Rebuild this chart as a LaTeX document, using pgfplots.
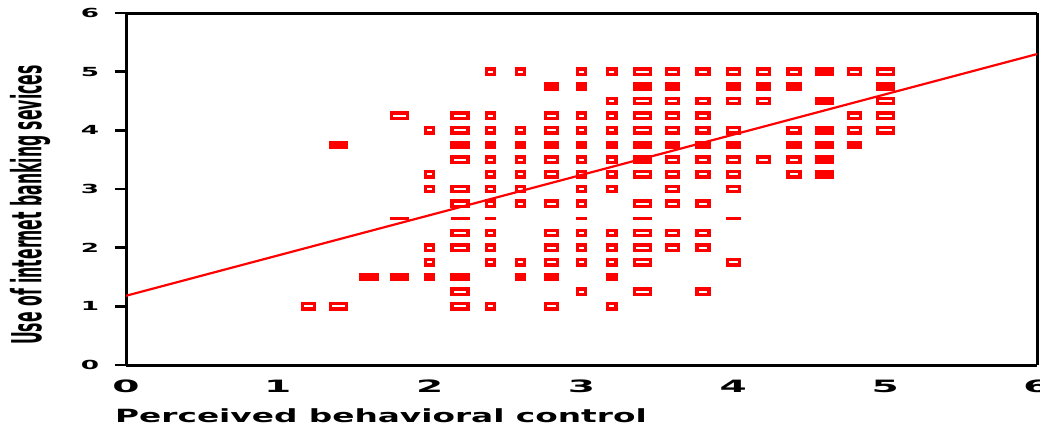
\documentclass[border=0pt]{standalone}
\usepackage{pgfplots}
\usepackage{pgfplotstable}
\usepackage{graphicx}
\usepackage{fontspec}
\setmainfont{DejaVu Sans}
\pgfplotsset{compat=1.18}

\pgfplotstableread{
x y c
1.2 1.0 mh
1.4 1.0 wh
1.4 3.75 wf
1.6 1.5 wf
1.8 1.5 wf
1.8 2.5 wt
1.8 4.25 wh
2.0 1.5 nf
2.0 1.75 nh
2.0 2.0 nh
2.0 3.0 nh
2.0 3.25 nh
2.0 4.0 nh
2.2 1.0 wh
2.2 1.25 wh
2.2 1.5 wf
2.2 2.0 wh
2.2 2.25 wh
2.2 2.5 wt
2.2 2.75 wh
2.2 3.0 wh
2.2 3.5 wh
2.2 3.75 wf
2.2 4.0 wh
2.2 4.25 wh
2.4 1.0 nh
2.4 1.75 nh
2.4 2.0 nh
2.4 2.25 nh
2.4 2.5 nt
2.4 2.75 nh
2.4 3.0 nh
2.4 3.25 nh
2.4 3.5 nh
2.4 3.75 nf
2.4 4.0 nh
2.4 4.25 nh
2.4 5.0 nh
2.6 1.5 nf
2.6 1.75 nh
2.6 2.75 nh
2.6 3.0 nh
2.6 3.25 nh
2.6 3.5 nh
2.6 3.75 nf
2.6 4.0 nh
2.6 5.0 nh
2.8 1.0 mh
2.8 1.5 mf
2.8 1.75 mh
2.8 2.0 mh
2.8 2.25 mh
2.8 2.75 mh
2.8 3.25 mh
2.8 3.5 mh
2.8 3.75 mf
2.8 4.0 mh
2.8 4.25 mh
2.8 4.75 mf
3.0 1.25 nh
3.0 1.75 nh
3.0 2.0 nh
3.0 2.25 nh
3.0 2.5 nt
3.0 2.75 nh
3.0 3.0 nh
3.0 3.25 nh
3.0 3.5 nh
3.0 3.75 nf
3.0 4.0 nh
3.0 4.25 nh
3.0 4.75 nf
3.0 5.0 nh
3.2 1.0 nh
3.2 1.5 nf
3.2 1.75 nh
3.2 2.0 nh
3.2 2.25 nh
3.2 3.0 nh
3.2 3.25 nh
3.2 3.5 nh
3.2 3.75 nf
3.2 4.0 nh
3.2 4.25 nh
3.2 4.5 nh
3.2 5.0 nh
3.4 1.25 wh
3.4 1.75 wh
3.4 2.0 wh
3.4 2.25 wh
3.4 2.5 wt
3.4 2.75 wh
3.4 3.25 wh
3.4 3.5 wf
3.4 3.75 wf
3.4 4.0 wh
3.4 4.25 wh
3.4 4.5 wh
3.4 4.75 wf
3.4 5.0 wh
3.6 2.0 mh
3.6 2.25 mh
3.6 2.75 mh
3.6 3.0 mh
3.6 3.25 mh
3.6 3.5 mh
3.6 3.75 mf
3.6 4.0 mh
3.6 4.25 mh
3.6 4.5 mh
3.6 4.75 mf
3.6 5.0 mh
3.8 1.25 mh
3.8 2.0 mh
3.8 2.25 mh
3.8 2.75 mh
3.8 3.25 mh
3.8 3.5 mh
3.8 3.75 mf
3.8 4.0 mh
3.8 4.25 mh
3.8 4.5 mh
3.8 5.0 mh
4.0 1.75 mh
4.0 2.5 mt
4.0 3.0 mh
4.0 3.25 mh
4.0 3.5 mh
4.0 3.75 mf
4.0 4.0 mh
4.0 4.5 mh
4.0 4.75 mf
4.0 5.0 mh
4.2 3.5 mh
4.2 4.5 mh
4.2 4.75 mf
4.2 5.0 mh
4.4 3.25 mh
4.4 3.5 mh
4.4 3.75 mf
4.4 4.0 mh
4.4 4.75 mf
4.4 5.0 mh
4.6 3.25 wf
4.6 3.5 wf
4.6 3.75 wf
4.6 4.0 wf
4.6 4.5 wf
4.6 5.0 wf
4.8 3.75 mf
4.8 4.0 mh
4.8 4.25 mh
4.8 5.0 mh
5.0 4.0 wh
5.0 4.25 wh
5.0 4.5 wh
5.0 4.75 wf
5.0 5.0 wh
}\pts

\begin{document}
\begin{tikzpicture}
\begin{axis}[
  at={(126pt,61pt)}, anchor=south west,
  width=911pt, height=352pt, scale only axis,
  xmin=0, xmax=6, ymin=0, ymax=6,
  separate axis lines,
  every outer x axis line/.append style={line width=3pt, black},
  every outer y axis line/.append style={line width=3pt, black},
  xtick={0,1,2,3,4,5,6}, ytick={0,1,2,3,4,5,6},
  xticklabels={0,1,2,3,4,5,6}, yticklabels={0,1,2,3,4,5,6},
  xtick pos=bottom, ytick pos=left,
  tick align=outside,
  major tick length=11pt,
  xtick style={draw=none},
  ytick style={line width=2.5pt, black},
  xticklabel style={font=\fontsize{17}{18}\selectfont\bfseries, xscale=2.3, anchor=base, yshift=-16pt},
  yticklabel style={font=\fontsize{12.5}{14}\selectfont\bfseries, xscale=2.1, anchor=east, xshift=-4pt},
]
\addplot[scatter, only marks, scatter src=explicit symbolic,
  scatter/classes={
    nh={mark=square, mark size=2.6pt, line width=3.2pt, draw=red, xscale=1.55},
    mh={mark=square, mark size=2.6pt, line width=3.2pt, draw=red, xscale=2.3},
    wh={mark=square, mark size=2.6pt, line width=3.2pt, draw=red, xscale=3.1},
    nf={mark=square*, mark size=2.6pt, line width=3.2pt, draw=red, fill=red, xscale=1.55},
    mf={mark=square*, mark size=2.6pt, line width=3.2pt, draw=red, fill=red, xscale=2.3},
    wf={mark=square*, mark size=2.6pt, line width=3.2pt, draw=red, fill=red, xscale=3.1},
    nt={mark=square*, mark size=1pt, line width=1pt, draw=red, fill=red, xscale=5},
    mt={mark=square*, mark size=1pt, line width=1pt, draw=red, fill=red, xscale=7},
    wt={mark=square*, mark size=1pt, line width=1pt, draw=red, fill=red, xscale=9}
  }] table[x=x, y=y, meta=c] {\pts};
\addplot[red, line width=2.2pt, no marks] coordinates {(0,1.18) (6,5.30)};
\end{axis}
\node[anchor=base west, inner sep=0pt] at (115pt,4pt)
  {\scalebox{1.8}[1]{\fontsize{18.2}{20}\selectfont\bfseries Perceived behavioral control}};
\node[rotate=90, inner sep=0pt] at (30pt,221pt)
  {\scalebox{0.87}[2.3]{\fontsize{18}{20}\selectfont\bfseries Use of internet banking sevices}};
\pgfresetboundingbox
\path[use as bounding box] (0,0) rectangle (1040pt,426pt);
\end{tikzpicture}
\end{document}
